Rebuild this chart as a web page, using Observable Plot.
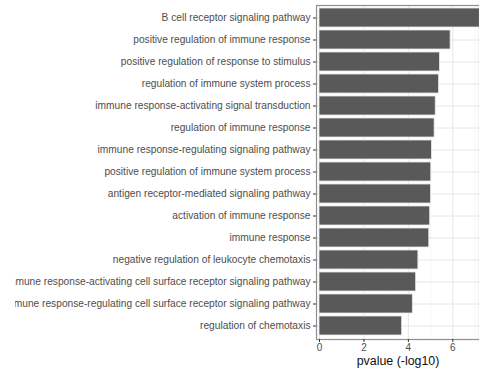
<!DOCTYPE html>
<html>
<head>
<meta charset="utf-8">
<script src="https://cdn.jsdelivr.net/npm/d3@7"></script>
<script src="https://cdn.jsdelivr.net/npm/@observablehq/plot@0.6"></script>
<style>
  html, body { margin: 0; padding: 0; background: #fff; }
  #chart { padding-left: 15px; }
  svg { overflow: hidden; display: block; font-family: "Liberation Sans", Arial, sans-serif; }
</style>
</head>
<body>
<div id="chart"></div>
<script>
const terms = [
  "B cell receptor signaling pathway",
  "positive regulation of immune response",
  "positive regulation of response to stimulus",
  "regulation of immune system process",
  "immune response-activating signal transduction",
  "regulation of immune response",
  "immune response-regulating signaling pathway",
  "positive regulation of immune system process",
  "antigen receptor-mediated signaling pathway",
  "activation of immune response",
  "immune response",
  "negative regulation of leukocyte chemotaxis",
  "immune response-activating cell surface receptor signaling pathway",
  "immune response-regulating cell surface receptor signaling pathway",
  "regulation of chemotaxis"
];
const pvalues = [7.3, 5.9, 5.42, 5.38, 5.23, 5.18, 5.06, 5.03, 5.02, 4.98, 4.94, 4.45, 4.35, 4.2, 3.72];
const majorTicks = [0, 2, 4, 6];
const minorTicks = [1, 3, 5, 7];
const xLabel = "pvalue (-log10)";

const data = terms.map((t, i) => ({term: t, value: pvalues[i]}));

const chart = Plot.plot({
  width: 464,
  height: 376,
  marginLeft: 301,
  marginRight: 0,
  marginTop: 5,
  marginBottom: 37,
  style: {fontFamily: "Liberation Sans, Arial, sans-serif", background: "#fff"},
  x: {domain: [-0.135, 7.2], axis: null},
  y: {domain: terms, paddingInner: 0.136, paddingOuter: 0.158, axis: null},
  marks: [
    Plot.ruleX(minorTicks, {stroke: "#f4f4f4", strokeWidth: 0.6}),
    Plot.ruleX(majorTicks, {stroke: "#e6e6e6", strokeWidth: 1}),
    Plot.ruleY(terms, {y: d => d, stroke: "#e6e6e6", strokeWidth: 1}),
    Plot.barX(data, {y: "term", x1: 0, x2: "value", fill: "#595959", stroke: "#e8e8e8", strokeWidth: 0.8, clip: true}),
    Plot.frame({stroke: "#8f8f8f", strokeWidth: 1.2}),
    Plot.axisY({tickSize: 3, tickPadding: 3, fontSize: 10.2, color: "#4d4d4d", stroke: "#333", label: null}),
    Plot.axisX({ticks: majorTicks, tickSize: 3, tickPadding: 1.5, fontSize: 10, color: "#4d4d4d", stroke: "#333", label: null}),
    Plot.text([xLabel], {frameAnchor: "bottom", dy: 25, fontSize: 12.4, fill: "#111", text: d => d})
  ]
});
document.getElementById("chart").appendChild(chart);
</script>
</body>
</html>
